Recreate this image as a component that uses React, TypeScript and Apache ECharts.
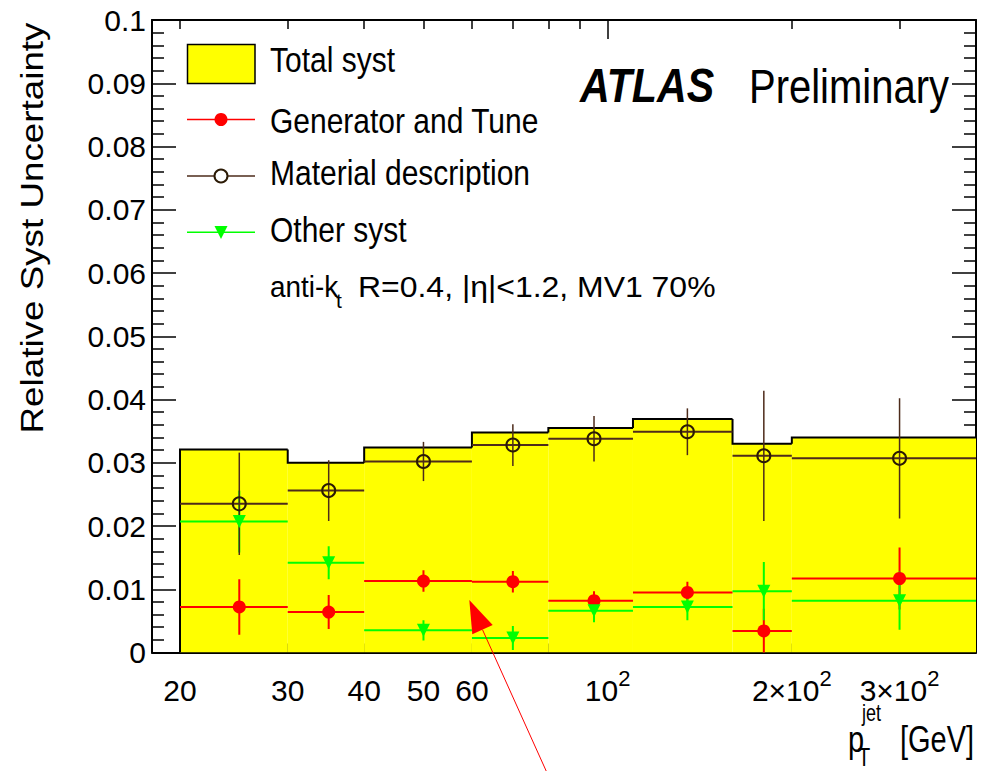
import React, { useEffect, useRef } from 'react';
import * as echarts from 'echarts';

// pT bins (GeV) and their plotted centres
const binEdges = [20, 30, 40, 60, 80, 110, 160, 200, 400];
const binCenters = [25, 35, 50, 70, 95, 135, 180, 300];

// Relative systematic uncertainties per bin
const totalSyst = [0.0321, 0.03, 0.0324, 0.0348, 0.0355, 0.0369, 0.033, 0.034];
const generatorTune = [0.0072, 0.0064, 0.0113, 0.0112, 0.0082, 0.0095, 0.0034, 0.0117];
const generatorErr = [0.0044, 0.0027, 0.0017, 0.0017, 0.0015, 0.0017, 0.0035, 0.0049];
const materialDesc = [0.0235, 0.0256, 0.0302, 0.0328, 0.0338, 0.0349, 0.0311, 0.0307];
const materialErr = [0.0081, 0.0048, 0.0031, 0.0033, 0.0036, 0.0037, 0.0103, 0.0095];
const otherSyst = [0.0207, 0.0142, 0.0035, 0.0023, 0.0066, 0.0072, 0.0097, 0.0082];
const otherErr = [0.0049, 0.0026, 0.0016, 0.0019, 0.0018, 0.0021, 0.0046, 0.0046];

// Axis ticks (GeV)
const xLabelValues = [20, 30, 40, 50, 60, 100, 200, 300];
const xShortTicks = [20, 30, 40, 50, 60, 70, 80, 90, 200, 300];
const xLongTicks = [100];
const X_MIN = 18;
const X_MAX = 400;

const FONT = '"Liberation Sans", Arial, Helvetica, sans-serif';
const YELLOW = '#ffff00';
const RED = '#ff0000';
const GREEN = '#00ff00';
const BROWN = '#4d2b1a';
const CIRCLE_EDGE = '#2b1a05';

const lg = (v: number) => Math.log10(v);

function formatXLabel(v: number): string {
  const g = Math.round(Math.pow(10, v));
  if (g === 100) return '{n|10}{sup|2}';
  if (g === 200) return '{n|2×10}{sup|2}';
  if (g === 300) return '{n|3×10}{sup|2}';
  return `{n|${g}}`;
}

function errorBarRenderer(color: string, vWidth: number) {
  return (_params: any, api: any) => {
    const xc = api.value(0);
    const y = api.value(1);
    const xl = api.value(2);
    const xh = api.value(3);
    const e = api.value(4);
    const pL = api.coord([xl, y]);
    const pH = api.coord([xh, y]);
    const pT = api.coord([xc, y + e]);
    const pB = api.coord([xc, y - e]);
    return {
      type: 'group',
      children: [
        { type: 'line', shape: { x1: pL[0], y1: pL[1], x2: pH[0], y2: pH[1] }, style: { stroke: color, lineWidth: 2 } },
        { type: 'line', shape: { x1: pT[0], y1: pT[1], x2: pB[0], y2: pB[1] }, style: { stroke: color, lineWidth: vWidth } },
      ],
    };
  };
}

function barData(values: number[], errs: number[]) {
  return binCenters.map((c, i) => [lg(c), values[i], lg(binEdges[i]), lg(binEdges[i + 1]), errs[i]]);
}

function markerData(values: number[]) {
  return binCenters.map((c, i) => [lg(c), values[i]]);
}

function text(x: number, y: number, str: string, fontSize: number, extra: any = {}, styleExtra: any = {}) {
  return {
    type: 'text',
    x,
    y,
    z: 100,
    silent: true,
    ...extra,
    style: {
      text: str,
      fontSize,
      fontFamily: FONT,
      fill: '#000',
      align: 'left',
      textAlign: 'left',
      verticalAlign: 'middle',
      textVerticalAlign: 'middle',
      ...styleExtra,
    },
  };
}

function buildOption() {
  const totalData = binEdges.slice(0, -1).map((lo, i) => [
    lg(lo),
    lg(binEdges[i + 1]),
    totalSyst[i],
    i === 0 ? 0 : totalSyst[i - 1],
  ]);

  const xBase = {
    type: 'value',
    min: lg(X_MIN),
    max: lg(X_MAX),
    splitLine: { show: false },
  };

  const axisLine = { show: true, onZero: false, lineStyle: { color: '#000', width: 2 } };

  const xAxis = [
    {
      ...xBase,
      position: 'bottom',
      axisLine,
      axisTick: {
        show: true,
        inside: true,
        length: 9,
        customValues: xShortTicks.map(lg),
        lineStyle: { color: '#000', width: 1.5 },
      },
      axisLabel: {
        customValues: xLabelValues.map(lg),
        formatter: formatXLabel,
        margin: 25,
        color: '#000',
        fontFamily: FONT,
        fontSize: 30,
        rich: {
          n: { fontSize: 30, lineHeight: 26, fontFamily: FONT, color: '#000' },
          sup: { fontSize: 22, height: 2, lineHeight: 2, verticalAlign: 'top', fontFamily: FONT, color: '#000' },
        },
      },
    },
    {
      ...xBase,
      position: 'bottom',
      axisLine: { show: false, onZero: false },
      axisTick: { show: true, inside: true, length: 19, customValues: xLongTicks.map(lg), lineStyle: { color: '#000', width: 1.5 } },
      axisLabel: { show: false },
    },
    {
      ...xBase,
      position: 'top',
      axisLine,
      axisTick: { show: true, inside: true, length: 9, customValues: xShortTicks.map(lg), lineStyle: { color: '#000', width: 1.5 } },
      axisLabel: { show: false },
    },
    {
      ...xBase,
      position: 'top',
      axisLine: { show: false, onZero: false },
      axisTick: { show: true, inside: true, length: 19, customValues: xLongTicks.map(lg), lineStyle: { color: '#000', width: 1.5 } },
      axisLabel: { show: false },
    },
  ];

  const yBase = {
    type: 'value',
    min: 0,
    max: 0.1,
    interval: 0.01,
    splitLine: { show: false },
    axisLine,
    axisTick: { show: true, inside: true, length: 24, lineStyle: { color: '#000', width: 1.5 } },
    minorTick: { show: true, splitNumber: 5, length: 12, lineStyle: { color: '#000', width: 1.5 } },
  };

  const yAxis = [
    {
      ...yBase,
      position: 'left',
      axisLabel: {
        margin: 6,
        color: '#000',
        fontFamily: FONT,
        fontSize: 30,
        formatter: (v: number) => (v === 0 ? '0' : String(Number(v.toFixed(2)))),
      },
    },
    { ...yBase, position: 'right', axisLabel: { show: false } },
  ];

  const series: any[] = [
    {
      type: 'custom',
      name: 'Total syst',
      silent: true,
      clip: true,
      data: totalData,
      renderItem: (_p: any, api: any) => {
        const a = api.coord([api.value(0), api.value(2)]);
        const b = api.coord([api.value(1), 0]);
        return {
          type: 'rect',
          shape: { x: a[0], y: a[1], width: b[0] - a[0], height: b[1] - a[1] },
          style: { fill: YELLOW },
        };
      },
    },
    {
      type: 'custom',
      name: 'Total syst outline',
      silent: true,
      clip: true,
      data: totalData,
      renderItem: (_p: any, api: any) => {
        const lo = api.value(0);
        const hi = api.value(1);
        const v = api.value(2);
        const prev = api.value(3);
        return {
          type: 'polyline',
          shape: { points: [api.coord([lo, prev]), api.coord([lo, v]), api.coord([hi, v])] },
          style: { stroke: '#000', lineWidth: 2, fill: 'none' },
        };
      },
    },
    {
      type: 'custom',
      name: 'Generator and Tune bars',
      silent: true,
      clip: true,
      data: barData(generatorTune, generatorErr),
      renderItem: errorBarRenderer(RED, 2),
    },
    {
      type: 'scatter',
      name: 'Generator and Tune',
      silent: true,
      data: markerData(generatorTune),
      symbol: 'circle',
      symbolSize: 13,
      itemStyle: { color: RED, opacity: 1 },
    },
    {
      type: 'custom',
      name: 'Other syst bars',
      silent: true,
      clip: true,
      data: barData(otherSyst, otherErr),
      renderItem: errorBarRenderer(GREEN, 2),
    },
    {
      type: 'scatter',
      name: 'Other syst',
      silent: true,
      data: markerData(otherSyst),
      symbol: 'triangle',
      symbolRotate: 180,
      symbolSize: 13,
      itemStyle: { color: GREEN, opacity: 1 },
    },
    {
      type: 'custom',
      name: 'Material description bars',
      silent: true,
      clip: true,
      data: barData(materialDesc, materialErr),
      renderItem: errorBarRenderer(BROWN, 1.5),
    },
    {
      type: 'scatter',
      name: 'Material description',
      silent: true,
      data: markerData(materialDesc),
      symbol: 'circle',
      symbolSize: 13,
      itemStyle: { color: 'transparent', borderColor: CIRCLE_EDGE, borderWidth: 2, opacity: 1 },
    },
  ];

  const legendText = { scaleY: 1.15 };
  const titleText = { scaleY: 1.3 };

  const graphic = [
    // legend
    { type: 'rect', z: 100, silent: true, shape: { x: 187.5, y: 44.5, width: 67.5, height: 39 }, style: { fill: YELLOW, stroke: '#000', lineWidth: 1.5 } },
    text(270, 60, 'Total syst', 30, legendText),
    { type: 'line', z: 100, silent: true, shape: { x1: 187, y1: 119.5, x2: 255, y2: 119.5 }, style: { stroke: RED, lineWidth: 1.5 } },
    { type: 'circle', z: 100, silent: true, shape: { cx: 221, cy: 119.5, r: 6.5 }, style: { fill: RED } },
    text(270, 121.7, 'Generator and Tune', 30, legendText),
    { type: 'line', z: 100, silent: true, shape: { x1: 187, y1: 176, x2: 255, y2: 176 }, style: { stroke: BROWN, lineWidth: 1.5 } },
    { type: 'circle', z: 100, silent: true, shape: { cx: 221, cy: 176, r: 6.5 }, style: { fill: '#fff', stroke: CIRCLE_EDGE, lineWidth: 2 } },
    text(270, 173, 'Material description', 30, legendText),
    { type: 'line', z: 100, silent: true, shape: { x1: 187, y1: 232.3, x2: 255, y2: 232.3 }, style: { stroke: GREEN, lineWidth: 1.5 } },
    { type: 'polygon', z: 100, silent: true, shape: { points: [[214.5, 226], [227.5, 226], [221, 239]] }, style: { fill: GREEN } },
    text(270, 229.8, 'Other syst', 30, legendText),
    // jet selection
    text(270, 286.7, 'anti-k', 30, { scaleX: 0.93 }),
    text(336, 300, 't', 21),
    text(358, 286.7, 'R=0.4, |η|<1.2, MV1 70%', 30, { scaleX: 1.065 }),
    // experiment label
    text(580, 85.8, 'ATLAS', 40, { scaleY: 1.2, scaleX: 1.03 }, { fontWeight: 'bold', fontStyle: 'italic' }),
    text(749, 85.8, 'Preliminary', 40, { scaleY: 1.2 }),
    // axis titles
    text(31.5, 228, 'Relative Syst Uncertainty', 32, { rotation: Math.PI / 2, scaleX: 1.15 }, { align: 'center', textAlign: 'center' }),
    text(848, 739, 'p', 29, titleText),
    text(862, 713, 'jet', 18, titleText),
    text(858, 757, 'T', 20, titleText),
    text(900, 739, '[GeV]', 29, titleText),
    // arrow
    { type: 'line', z: 100, silent: true, shape: { x1: 548, y1: 775, x2: 482.5, y2: 629.7 }, style: { stroke: RED, lineWidth: 1 } },
    { type: 'polygon', z: 100, silent: true, shape: { points: [[469.3, 600], [472.3, 634.3], [492.7, 625]] }, style: { fill: RED } },
  ];

  return {
    animation: false,
    backgroundColor: '#fff',
    grid: { left: 152, right: 13, top: 20, bottom: 118.5, containLabel: false },
    xAxis,
    yAxis,
    series,
    graphic,
  };
}

export default function App() {
  const ref = useRef<HTMLDivElement>(null);
  useEffect(() => {
    if (!ref.current) return;
    const chart = echarts.init(ref.current, null, { renderer: 'svg' });
    chart.setOption(buildOption() as any);
    return () => chart.dispose();
  }, []);
  return (
    <div
      ref={ref}
      style={{ position: 'fixed', left: 0, top: 0, width: 989, height: 771, background: '#fff' }}
    />
  );
}
